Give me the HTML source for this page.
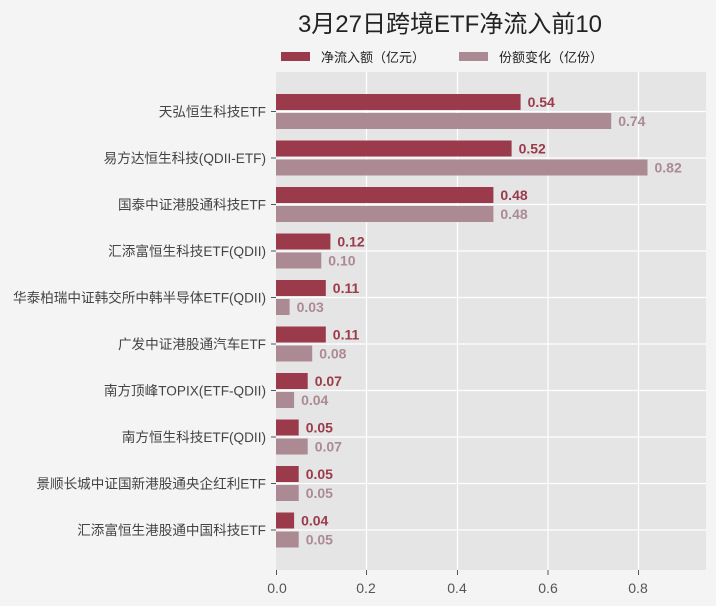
<!DOCTYPE html><html><head><meta charset="utf-8"><style>body{margin:0;background:#f4f4f4}svg{display:block}text{font-family:"Liberation Sans","Noto Sans CJK SC",sans-serif}</style></head><body>
<svg width="716" height="606" viewBox="0 0 716 606" xmlns="http://www.w3.org/2000/svg">
<rect width="716" height="606" fill="#f4f4f4"/>
<text x="450" y="32" font-size="24" text-anchor="middle" fill="#222">3月27日跨境ETF净流入前10</text>
<rect x="281" y="52" width="29" height="9" fill="#9b3a4b"/><text x="321" y="62" font-size="13" fill="#222">净流入额（亿元）</text>
<rect x="459" y="52" width="29" height="9" fill="#ab8a93"/><text x="499" y="62" font-size="13" fill="#222">份额变化（亿份）</text>
<rect x="276" y="72" width="430" height="498" fill="#e5e5e5"/>
<g stroke="#fff" stroke-width="1.2">
<line x1="366.5" y1="72" x2="366.5" y2="570"/><line x1="457.5" y1="72" x2="457.5" y2="570"/><line x1="548" y1="72" x2="548" y2="570"/><line x1="638.5" y1="72" x2="638.5" y2="570"/>
<line x1="276" x2="706" y1="111.5" y2="111.5"/><line x1="276" x2="706" y1="158" y2="158"/><line x1="276" x2="706" y1="204.5" y2="204.5"/><line x1="276" x2="706" y1="251" y2="251"/><line x1="276" x2="706" y1="297.5" y2="297.5"/><line x1="276" x2="706" y1="344" y2="344"/><line x1="276" x2="706" y1="390.5" y2="390.5"/><line x1="276" x2="706" y1="437" y2="437"/><line x1="276" x2="706" y1="483.5" y2="483.5"/><line x1="276" x2="706" y1="530" y2="530"/>
</g>
<g stroke="#555">
<line x1="271" x2="276" y1="111.5" y2="111.5"/><line x1="271" x2="276" y1="158" y2="158"/><line x1="271" x2="276" y1="204.5" y2="204.5"/><line x1="271" x2="276" y1="251" y2="251"/><line x1="271" x2="276" y1="297.5" y2="297.5"/><line x1="271" x2="276" y1="344" y2="344"/><line x1="271" x2="276" y1="390.5" y2="390.5"/><line x1="271" x2="276" y1="437" y2="437"/><line x1="271" x2="276" y1="483.5" y2="483.5"/><line x1="271" x2="276" y1="530" y2="530"/>
<line x1="276.5" y1="570" x2="276.5" y2="575"/><line x1="366.5" y1="570" x2="366.5" y2="575"/><line x1="457.5" y1="570" x2="457.5" y2="575"/><line x1="548" y1="570" x2="548" y2="575"/><line x1="638.5" y1="570" x2="638.5" y2="575"/>
</g>
<g font-size="13.6" fill="#444" text-anchor="end">
<text x="266" y="116.5">天弘恒生科技ETF</text>
<text x="266" y="163">易方达恒生科技(QDII-ETF)</text>
<text x="266" y="209.5">国泰中证港股通科技ETF</text>
<text x="266" y="256">汇添富恒生科技ETF(QDII)</text>
<text x="266" y="302.5">华泰柏瑞中证韩交所中韩半导体ETF(QDII)</text>
<text x="266" y="349">广发中证港股通汽车ETF</text>
<text x="266" y="395.5">南方顶峰TOPIX(ETF-QDII)</text>
<text x="266" y="442">南方恒生科技ETF(QDII)</text>
<text x="266" y="488.5">景顺长城中证国新港股通央企红利ETF</text>
<text x="266" y="535">汇添富恒生港股通中国科技ETF</text>
</g>
<g fill="#9b3a4b">
<rect x="276" y="94" width="244.6" height="16"/>
<rect x="276" y="140.5" width="235.6" height="16"/>
<rect x="276" y="187" width="217.4" height="16"/>
<rect x="276" y="233.5" width="54.4" height="16"/>
<rect x="276" y="280" width="49.8" height="16"/>
<rect x="276" y="326.5" width="49.8" height="16"/>
<rect x="276" y="373" width="31.7" height="16"/>
<rect x="276" y="419.5" width="22.7" height="16"/>
<rect x="276" y="466" width="22.7" height="16"/>
<rect x="276" y="512.5" width="18.1" height="16"/>
</g>
<g fill="#ab8a93">
<rect x="276" y="113" width="335.2" height="16"/>
<rect x="276" y="159.5" width="371.5" height="16"/>
<rect x="276" y="206" width="217.4" height="16"/>
<rect x="276" y="252.5" width="45.3" height="16"/>
<rect x="276" y="299" width="13.6" height="16"/>
<rect x="276" y="345.5" width="36.2" height="16"/>
<rect x="276" y="392" width="18.1" height="16"/>
<rect x="276" y="438.5" width="31.7" height="16"/>
<rect x="276" y="485" width="22.7" height="16"/>
<rect x="276" y="531.5" width="22.7" height="16"/>
</g>
<g font-size="14" font-weight="bold" fill="#9b3a4b">
<text x="527.6" y="107">0.54</text>
<text x="518.6" y="153.5">0.52</text>
<text x="500.4" y="200">0.48</text>
<text x="337.4" y="246.5">0.12</text>
<text x="332.8" y="293">0.11</text>
<text x="332.8" y="339.5">0.11</text>
<text x="314.7" y="386">0.07</text>
<text x="305.7" y="432.5">0.05</text>
<text x="305.7" y="479">0.05</text>
<text x="301.1" y="525.5">0.04</text>
</g>
<g font-size="14" font-weight="bold" fill="#ab8a93">
<text x="618.2" y="126">0.74</text>
<text x="654.5" y="172.5">0.82</text>
<text x="500.4" y="219">0.48</text>
<text x="328.3" y="265.5">0.10</text>
<text x="296.6" y="312">0.03</text>
<text x="319.2" y="358.5">0.08</text>
<text x="301.1" y="405">0.04</text>
<text x="314.7" y="451.5">0.07</text>
<text x="305.7" y="498">0.05</text>
<text x="305.7" y="544.5">0.05</text>
</g>
<g font-size="14" fill="#555" text-anchor="middle">
<text x="277" y="593">0.0</text><text x="366" y="593">0.2</text><text x="457" y="593">0.4</text><text x="548" y="593">0.6</text><text x="638" y="593">0.8</text>
</g>
</svg></body></html>
